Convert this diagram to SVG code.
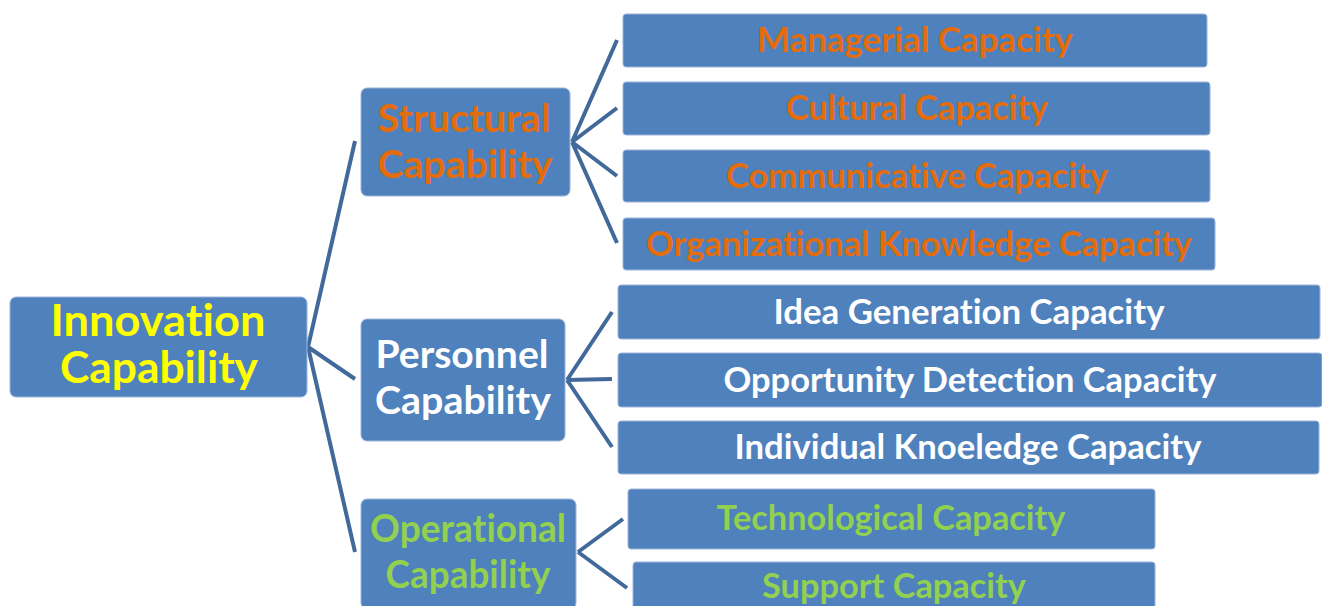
<svg xmlns="http://www.w3.org/2000/svg" width="1322" height="606" viewBox="0 0 1322 606">
<style>
.box{fill:#4f81bd;stroke:#9db6da;stroke-width:1}
.c{stroke:#41699a;stroke-width:4;fill:none;stroke-linecap:butt}
text{font-family:Lato,"Open Sans","Liberation Sans",sans-serif;font-weight:bold;text-anchor:middle;font-variant-ligatures:none;font-feature-settings:"liga" 0,"clig" 0}
.k{font-size:35px}
.m{font-size:39px}
.r{font-size:43px;fill:#ffff00}
.o{fill:#e46c0a}
.w{fill:#ffffff}
.g{fill:#92d050}
</style>
<rect width="1322" height="606" fill="#ffffff"/>
<g id="connectors">
<path class="c" d="M308,347 L355,141 M308,347 L355,379 M308,347 L355,552"/>
<path class="c" d="M572,142 L617,40 M572,142 L617,108 M572,142 L617,176 M572,142 L617,243"/>
<path class="c" d="M567,380 L612,312 M567,380 L612,379 M567,380 L612,447"/>
<path class="c" d="M578,552 L623,519 M578,552 L627,588"/>
</g>
<g id="innovation">
<rect class="box" x="10" y="297" width="297" height="100" rx="6"/>
<text class="r" x="158" y="336" textLength="215" lengthAdjust="spacingAndGlyphs">Innovation</text>
<text class="r" x="159" y="383" textLength="198" lengthAdjust="spacingAndGlyphs">Capability</text>
</g>
<g id="structural">
<rect class="box" x="361" y="88" width="209" height="108" rx="6"/>
<text class="m o" x="464" y="132" textLength="173" lengthAdjust="spacingAndGlyphs">Structural</text>
<text class="m o" x="465" y="178" textLength="175" lengthAdjust="spacingAndGlyphs">Capability</text>
</g>
<g id="personnel">
<rect class="box" x="361" y="319" width="204" height="122" rx="6"/>
<text class="m w" x="462" y="368" textLength="173" lengthAdjust="spacingAndGlyphs">Personnel</text>
<text class="m w" x="463" y="414" textLength="176" lengthAdjust="spacingAndGlyphs">Capability</text>
</g>
<g id="operational">
<rect class="box" x="361" y="499" width="215" height="110" rx="6"/>
<text class="m g" x="468" y="542" textLength="196" lengthAdjust="spacingAndGlyphs">Operational</text>
<text class="m g" x="468" y="588" textLength="165" lengthAdjust="spacingAndGlyphs">Capability</text>
</g>
<g id="managerial">
<rect class="box" x="623" y="14" width="584" height="53" rx="3"/>
<text class="k o" x="915" y="52" textLength="316" lengthAdjust="spacingAndGlyphs">Managerial Capacity</text>
</g>
<g id="cultural">
<rect class="box" x="623" y="82" width="587" height="53" rx="3"/>
<text class="k o" x="917" y="120" textLength="262" lengthAdjust="spacingAndGlyphs">Cultural Capacity</text>
</g>
<g id="communicative">
<rect class="box" x="623" y="150" width="587" height="52" rx="3"/>
<text class="k o" x="917" y="188" textLength="382" lengthAdjust="spacingAndGlyphs">Communicative Capacity</text>
</g>
<g id="organizational">
<rect class="box" x="623" y="218" width="592" height="52" rx="3"/>
<text class="k o" x="919" y="256" textLength="546" lengthAdjust="spacingAndGlyphs">Organizational Knowledge Capacity</text>
</g>
<g id="idea">
<rect class="box" x="618" y="285" width="702" height="54" rx="3"/>
<text class="k w" x="969" y="324" textLength="391" lengthAdjust="spacingAndGlyphs">Idea Generation Capacity</text>
</g>
<g id="opportunity">
<rect class="box" x="618" y="353" width="704" height="54" rx="3"/>
<text class="k w" x="970" y="392" textLength="493" lengthAdjust="spacingAndGlyphs">Opportunity Detection Capacity</text>
</g>
<g id="individual">
<rect class="box" x="618" y="421" width="701" height="53" rx="3"/>
<text class="k w" x="968" y="459" textLength="467" lengthAdjust="spacingAndGlyphs">Individual Knoeledge Capacity</text>
</g>
<g id="technological">
<rect class="box" x="628" y="489" width="527" height="60" rx="3"/>
<text class="k g" x="891" y="530" textLength="349" lengthAdjust="spacingAndGlyphs">Technological Capacity</text>
</g>
<g id="support">
<rect class="box" x="633" y="562" width="522" height="50" rx="3"/>
<text class="k g" x="894" y="598" textLength="264" lengthAdjust="spacingAndGlyphs">Support Capacity</text>
</g>
</svg>
